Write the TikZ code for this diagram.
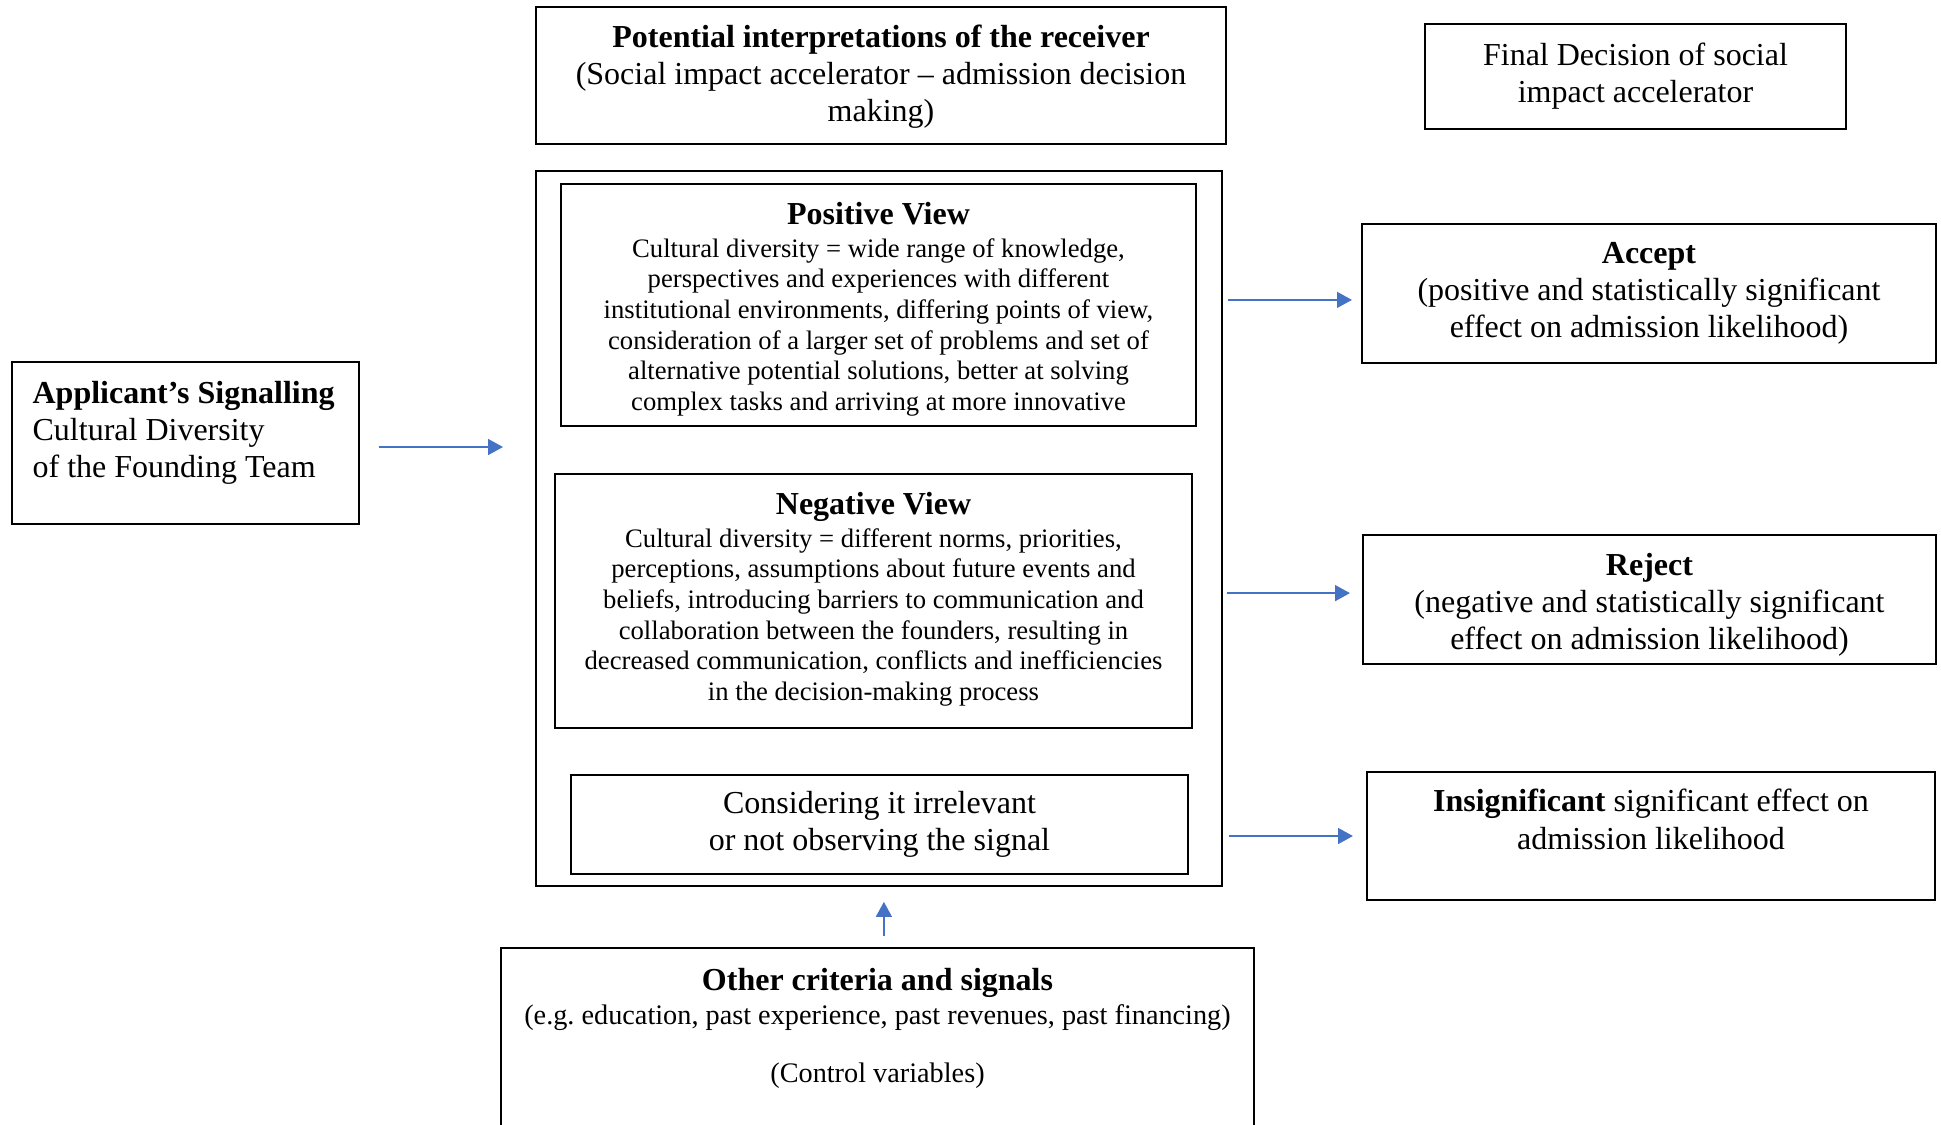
\documentclass[tikz,border=0pt]{standalone}
\usepackage{fontspec}
\setmainfont{Liberation Serif}
\usetikzlibrary{arrows.meta}
\definecolor{arrowblue}{RGB}{68,114,196}

\tikzset{
	box/.style={draw, line width=0.75pt, inner sep=0pt},
	txt/.style={inner sep=0pt, align=center, font=\fontsize{12}{13.9}\selectfont},
	bodytxt/.style={inner sep=0pt, align=center, font=\fontsize{10}{11.5}\selectfont},
	arr/.style={draw=arrowblue, line width=0.55pt, -{Triangle[length=5.6pt,width=6pt]}}
}

\begin{document}
\begin{tikzpicture}[x=0.375pt, y=-0.375pt]
		\useasboundingbox (0,0) rectangle (1941,1124);
		% sender
		\node[box, minimum width=130.1pt, minimum height=60.75pt] (app) at (185.5,443) {};
		\node[txt, align=left, anchor=north west] (apptxt) at ([xshift=7.9pt, yshift=-7.3pt]app.north west) {\textbf{Applicant’s Signalling}\\Cultural Diversity\\of the Founding Team};
		% headers
		\node[box, minimum width=258.75pt, minimum height=51.4pt] (interp) at (881,75.5) {};
		\node[txt, anchor=north] (interptxt) at ([yshift=-6.9pt]interp.north) {\textbf{Potential interpretations of the receiver}\\(Social impact accelerator – admission decision\\making)};
		\node[box, txt, minimum width=157.9pt, minimum height=39.4pt] (final) at (1635.5,76.5) {Final Decision of social\\impact accelerator};
		% receiver views
		\node[box, minimum width=257.25pt, minimum height=268.1pt] (views) at (879,528.5) {};
		\node[box, minimum width=238.1pt, minimum height=90.75pt] (pos) at (878.5,305) {};
		\node[bodytxt, anchor=north] (postxt) at ([yshift=-6.9pt]pos.north) {{\fontsize{12}{13.9}\selectfont\bfseries Positive View}\\[0.9pt]
			Cultural diversity = wide range of knowledge,\\
			perspectives and experiences with different\\
			institutional environments, differing points of view,\\
			consideration of a larger set of problems and set of\\
			alternative potential solutions, better at solving\\
			complex tasks and arriving at more innovative};
		\node[box, minimum width=238.9pt, minimum height=95.25pt] (neg) at (873.5,601) {};
		\node[bodytxt, anchor=north] (negtxt) at ([yshift=-6.9pt]neg.north) {{\fontsize{12}{13.9}\selectfont\bfseries Negative View}\\[0.9pt]
			Cultural diversity = different norms, priorities,\\
			perceptions, assumptions about future events and\\
			beliefs, introducing barriers to communication and\\
			collaboration between the founders, resulting in\\
			decreased communication, conflicts and inefficiencies\\
			in the decision-making process};
		\node[box, txt, minimum width=231.4pt, minimum height=37.1pt] (irr) at (879.5,824.5) {Considering it irrelevant\\or not observing the signal};
		% decisions
		\node[box, txt, minimum width=215.25pt, minimum height=52.1pt] (acc) at (1649,293.5) {\textbf{Accept}\\(positive and statistically significant\\effect on admission likelihood)};
		\node[box, minimum width=214.9pt, minimum height=48.4pt] (rej) at (1649.5,599.5) {};
		\node[txt] (rejtxt) at ([yshift=-1.9pt]rej.center) {\textbf{Reject}\\(negative and statistically significant\\effect on admission likelihood)};
		\node[box, minimum width=213pt, minimum height=48pt] (ins) at (1651,836) {};
		\node[txt, anchor=north] (instxt) at ([yshift=-6.7pt]ins.north) {\textbf{Insignificant} significant effect on\\admission likelihood};
		% controls
		\node[box, minimum width=282.4pt, minimum height=72pt] (oth) at (877.5,1044) {};
		\node[txt, anchor=north] (othtxt) at ([yshift=-7.9pt]oth.north) {\textbf{Other criteria and signals}\\[-1.15pt]
			{\fontsize{10.6}{12.2}\selectfont(e.g.\ education, past experience, past revenues, past financing)}\\[7.85pt]
			{\fontsize{10.6}{12.2}\selectfont(Control variables)}};
		% arrows
		\draw[arr] ([xshift=7.1pt, yshift=-1.5pt]app.east) -- ([xshift=-12pt, yshift=-1.5pt]app.east -| views.west);
		\draw[arr] ([xshift=1.9pt, yshift=-2.4pt]views.east |- acc.west) -- ([xshift=-3.4pt, yshift=-2.4pt]acc.west);
		\draw[arr] ([xshift=1.5pt, yshift=2.4pt]views.east |- rej.west) -- ([xshift=-4.5pt, yshift=2.4pt]rej.west);
		\draw[arr] ([xshift=2.2pt]views.east |- ins.west) -- ([xshift=-4.9pt]ins.west);
		\draw[arr] ([xshift=2.4pt, yshift=4.1pt]oth.north) -- ([xshift=2.4pt, yshift=-5.6pt]oth.north |- views.south);
	\end{tikzpicture}
\end{document}
